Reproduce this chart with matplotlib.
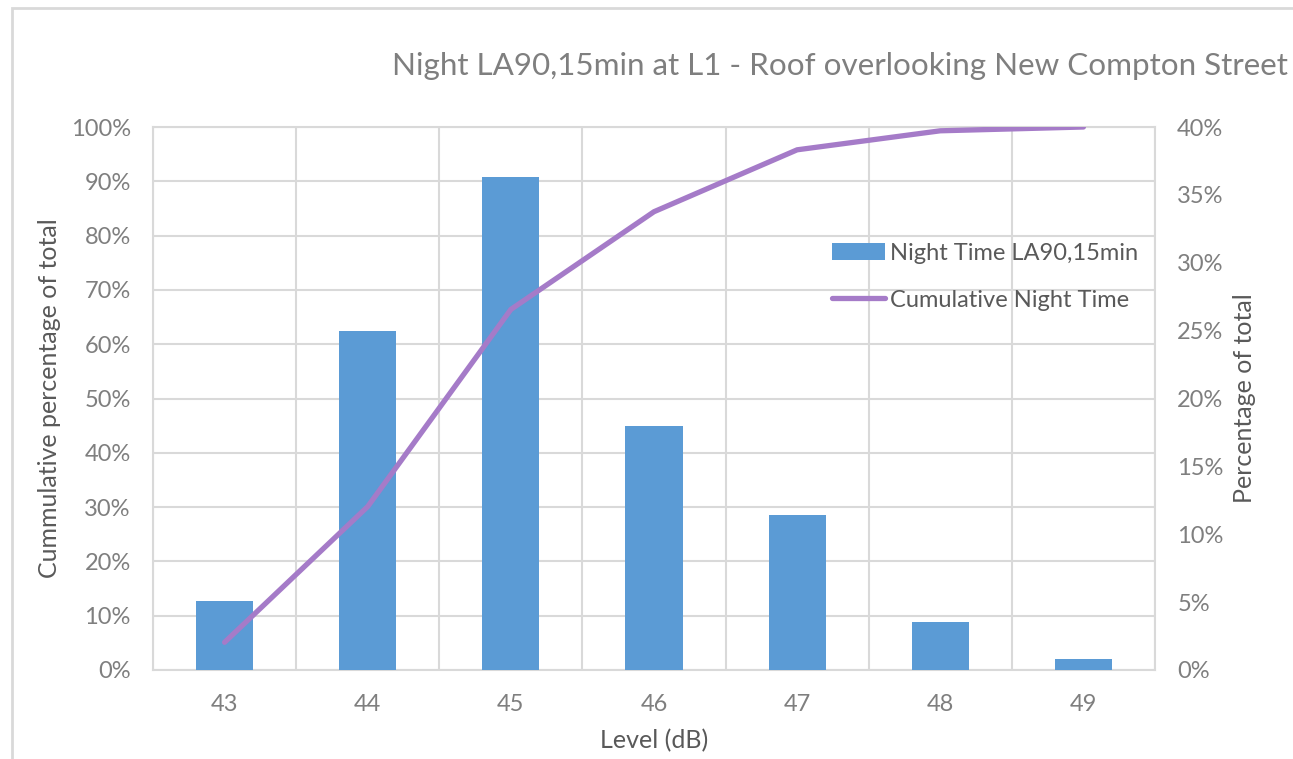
import matplotlib
matplotlib.use("Agg")
import matplotlib.pyplot as plt
from matplotlib.patches import Rectangle
from matplotlib.ticker import PercentFormatter, MultipleLocator

plt.rcParams['font.family'] = ['Lato', 'DejaVu Sans']

# data
levels = ['43', '44', '45', '46', '47', '48', '49']
pct_total = [5.1, 25.0, 36.3, 18.0, 11.4, 3.5, 0.8]          # right axis, %
cumulative = [5.1, 30.1, 66.4, 84.4, 95.8, 99.3, 100.0]      # left axis, %

bar_color = '#5B9BD5'
line_color = '#A57BC8'
grid_color = '#D9D9D9'
tick_color = '#7F7F7F'
label_color = '#595959'

fig = plt.figure(figsize=(12.93, 7.59), dpi=100)
W, H = 1293, 759
ax = fig.add_axes([153 / W, 1 - 670 / H, (1155 - 153) / W, (670 - 127) / H])

x = list(range(len(levels)))

# left axis: cumulative scale, carries the grid
ax.set_xlim(-0.5, len(levels) - 0.5)
ax.set_ylim(0, 100)
ax.yaxis.set_major_locator(MultipleLocator(10))
ax.yaxis.set_major_formatter(PercentFormatter(decimals=0))
ax.set_xticks(x)
ax.set_xticklabels(levels)
ax.set_xticks([i - 0.5 for i in range(len(levels) + 1)], minor=True)
ax.grid(True, which='major', axis='y', color=grid_color, lw=1.5)
ax.grid(True, which='minor', axis='x', color=grid_color, lw=1.5)
ax.set_axisbelow(True)
ax.tick_params(which='both', length=0)
ax.tick_params(axis='both', labelsize=17, colors=tick_color)
ax.tick_params(axis='y', pad=16)
ax.tick_params(axis='x', pad=17)
for s in ax.spines.values():
    s.set_color(grid_color)
    s.set_linewidth(1.5)
ax.set_ylabel('Cummulative percentage of total', fontsize=18, color=label_color, labelpad=7)
ax.set_xlabel('Level (dB)', fontsize=18, color=label_color, labelpad=10)

# right axis: percentage of total, bars
ax2 = ax.twinx()
ax2.set_ylim(0, 40)
ax2.yaxis.set_major_locator(MultipleLocator(5))
ax2.yaxis.set_major_formatter(PercentFormatter(decimals=0))
bars = ax2.bar(x, pct_total, width=0.4, color=bar_color, label='Night Time LA90,15min')
ax2.tick_params(length=0, labelsize=17, colors=tick_color, pad=16)
for s in ax2.spines.values():
    s.set_visible(False)
ax2.set_ylabel('Percentage of total', fontsize=18, color=label_color, labelpad=7)

# third axis on top for the cumulative line
ax3 = ax.twinx()
ax3.set_ylim(0, 100)
ax3.axis('off')
line, = ax3.plot(x, cumulative, color=line_color, lw=3.8, solid_capstyle='round',
                 label='Cumulative Night Time')

leg = ax3.legend(handles=[bars, line], loc='upper right', bbox_to_anchor=(1.004, 0.826),
                 frameon=False, fontsize=17, handlelength=2.25, handletextpad=0.2,
                 labelspacing=1.1, labelcolor=label_color)

fig.text(840 / W, 1 - 66 / H, 'Night LA90,15min at L1 - Roof overlooking New Compton Street',
         ha='center', va='center', fontsize=22.6, color=tick_color)

# outer chart frame
fig.patches.append(Rectangle((12 / W, -0.1), 1.2, 1.1 - 8 / H, transform=fig.transFigure,
                             fill=False, edgecolor=grid_color, lw=2))

fig.savefig('out.png', dpi=100)
